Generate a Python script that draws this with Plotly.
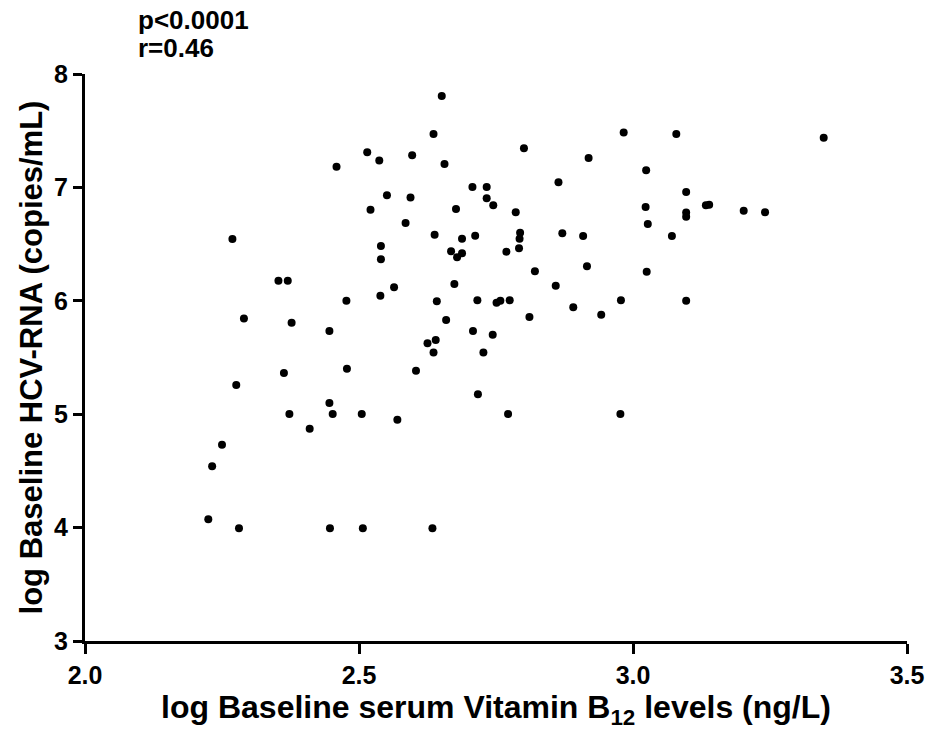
import plotly.graph_objects as go

# log Baseline serum Vitamin B12 levels (ng/L)
b12 = [
    2.459, 2.269, 2.353, 2.370, 2.477, 2.290, 2.377, 2.446,
    2.651, 2.636, 2.515, 2.537, 2.597, 2.656, 2.801, 2.983, 2.919, 2.864,
    2.707, 2.733, 2.733, 2.745, 2.551, 2.594, 2.521, 2.677, 2.786, 2.585,
    2.638, 2.688, 2.712, 2.794, 2.793, 2.792, 2.871, 2.909, 2.540, 2.540,
    2.668, 2.679, 2.688, 2.769, 2.821, 2.916, 2.859, 2.674, 2.564, 2.539,
    2.642, 2.716, 2.751, 2.758, 2.775, 2.978, 2.891, 2.942, 2.811, 2.659,
    2.708, 2.744, 2.625, 2.640, 2.636, 2.727,
    3.079, 3.348, 3.024, 3.097, 3.023, 3.097, 3.097, 3.133, 3.139, 3.202,
    3.241, 3.027, 3.071, 3.025, 3.097,
    2.363, 2.478, 2.276, 2.446, 2.373, 2.452, 2.410, 2.250, 2.232, 2.225,
    2.281, 2.447,
    2.604, 2.717, 2.505, 2.570, 2.772, 2.977, 2.507, 2.634,
]
# log Baseline HCV-RNA (copies/mL)
hcv = [
    7.181, 6.545, 6.177, 6.177, 6.000, 5.845, 5.807, 5.733,
    7.805, 7.470, 7.311, 7.237, 7.284, 7.207, 7.346, 7.484, 7.260, 7.046,
    7.004, 7.004, 6.905, 6.843, 6.931, 6.910, 6.804, 6.810, 6.781, 6.687,
    6.583, 6.548, 6.574, 6.601, 6.548, 6.463, 6.596, 6.572, 6.484, 6.366,
    6.437, 6.384, 6.419, 6.433, 6.260, 6.304, 6.133, 6.148, 6.119, 6.045,
    5.996, 6.004, 5.983, 6.001, 6.004, 6.004, 5.943, 5.877, 5.857, 5.831,
    5.733, 5.701, 5.625, 5.654, 5.545, 5.545,
    7.470, 7.437, 7.152, 6.960, 6.828, 6.778, 6.742, 6.843, 6.848, 6.795,
    6.781, 6.678, 6.572, 6.257, 6.001,
    5.363, 5.401, 5.257, 5.098, 5.001, 5.001, 4.871, 4.730, 4.542, 4.074,
    3.995, 3.995,
    5.383, 5.177, 5.001, 4.951, 5.001, 5.001, 3.995, 3.995,
]

x_ticks = [2.0, 2.5, 3.0, 3.5]
x_tick_labels = ["2.0", "2.5", "3.0", "3.5"]
y_ticks = [3, 4, 5, 6, 7, 8]
y_tick_labels = ["3", "4", "5", "6", "7", "8"]

stats_lines = ["p<0.0001", "r=0.46"]

FONT = "Liberation Sans, Arial, sans-serif"

fig = go.Figure()
fig.add_trace(go.Scatter(
    x=b12, y=hcv, mode="markers",
    marker=dict(color="black", size=8, line=dict(width=0)),
    showlegend=False, hoverinfo="x+y",
))

fig.update_layout(
    width=936, height=732,
    margin=dict(l=85, r=23, t=74, b=91),
    paper_bgcolor="white", plot_bgcolor="white",
    font=dict(family=FONT, color="black"),
    xaxis=dict(
        range=[2.0, 3.5], tickvals=x_ticks, ticktext=x_tick_labels,
        showgrid=False, zeroline=False,
        showline=True, linecolor="black", linewidth=3,
        ticks="outside", ticklen=10, tickwidth=3, tickcolor="black",
        tickfont=dict(size=25, family=FONT, color="black", weight="bold"),
        title=dict(text="<b>log Baseline serum Vitamin B<sub>12</sub> levels (ng/L)</b>",
                   font=dict(size=32, family=FONT, color="black"), standoff=0),
    ),
    yaxis=dict(
        range=[3, 8], tickvals=y_ticks, ticktext=y_tick_labels,
        showgrid=False, zeroline=False,
        showline=True, linecolor="black", linewidth=3,
        ticks="outside", ticklen=9, tickwidth=3, tickcolor="black",
        tickfont=dict(size=25, family=FONT, color="black", weight="bold"),
        title=dict(text="<b>log Baseline HCV-RNA (copies/mL)</b>",
                   font=dict(size=31, family=FONT, color="black"), standoff=3),
    ),
)

ypos = [1.095, 1.046]
for txt, yp in zip(stats_lines, ypos):
    fig.add_annotation(
        text="<b>" + txt + "</b>", xref="paper", yref="paper",
        x=0.062, y=yp, xanchor="left", yanchor="middle", showarrow=False,
        font=dict(size=26, family=FONT, color="black"),
    )

fig.write_html("out.html")
